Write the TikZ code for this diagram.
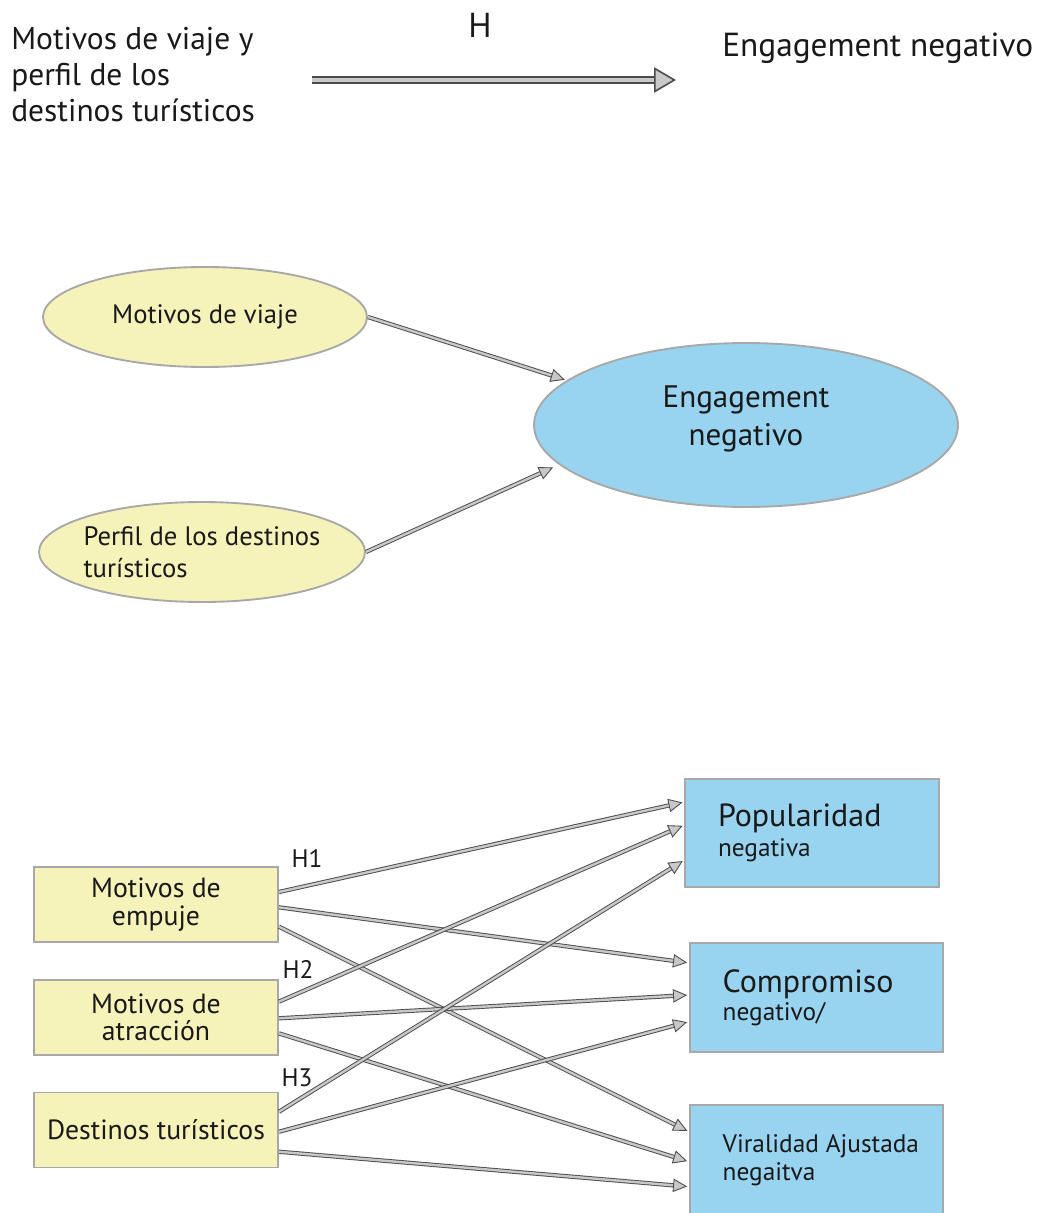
\documentclass[tikz,border=0pt]{standalone}
\usepackage{fontspec}
\setmainfont{PT Sans}
\usetikzlibrary{arrows.meta,shapes.geometric}
\definecolor{paleyellow}{RGB}{246,243,186}
\definecolor{skyblue}{RGB}{152,212,239}
\definecolor{edgegray}{RGB}{168,168,168}
\definecolor{arrdark}{RGB}{75,75,75}
\definecolor{arrlight}{RGB}{200,200,200}
\newcommand{\fsz}[2]{\fontsize{#1}{#2}\selectfont}

\begin{document}
\begin{tikzpicture}[x=0.75pt,y=-0.75pt,
  every node/.style={inner sep=0pt, text=black!90},
  yellowell/.style={ellipse, draw=edgegray, line width=1.4pt, fill=paleyellow},
  blueell/.style={ellipse, draw=edgegray, line width=1.4pt, fill=skyblue},
  yellowbox/.style={rectangle, draw=edgegray, line width=1.4pt, fill=paleyellow,
    minimum width=183pt, minimum height=56.25pt, align=center, font=\fsz{20.8}{20.5}},
  bluebox/.style={rectangle, draw=edgegray, line width=1.4pt, fill=skyblue,
    minimum width=190pt, minimum height=81pt},
  rlabel/.style={anchor=west, align=left, xshift=25pt, font=\fsz{19}{23}},
  hlabel/.style={font=\fsz{19}{19}},
  conn/.style={draw=arrdark, line width=0.7pt, double=arrlight, double distance=1.8pt,
    shorten >=1.5pt,
    -{Triangle[open, fill=arrlight, length=10.5pt, width=10pt, line width=0.65pt]}},
  bigarrow/.style={draw=arrdark, line width=1.4pt, double=arrlight, double distance=3.3pt,
    -{Triangle[open, fill=arrlight, length=16.5pt, width=19pt, line width=1.2pt]}}
]
\useasboundingbox (0,0) rectangle (1036,1213);

% ---------- top: single hypothesis ----------
\node[anchor=base west, align=left, font=\fsz{23.6}{27.3}] (src) at (11,122)
  {Motivos de viaje y\\perfil de los\\destinos turísticos};
\node[anchor=base west, font=\fsz{25}{30}] (tgt) at (722,57) {Engagement negativo};
\node[font=\fsz{26}{26}] (h) at (480,25) {H};
\coordinate (hs) at (312,80);
\coordinate (he) at (676,80);
\draw[bigarrow] (hs) -- (he);

% ---------- middle: ellipse model ----------
\node[yellowell, minimum width=243pt, minimum height=75pt, font=\fsz{20}{24}]
  (mv) at (205,317) {Motivos de viaje};
\node[yellowell, minimum width=244.5pt, minimum height=75pt, inner xsep=-8pt,
  align=left, font=\fsz{20}{24}]
  (pd) at (202,552) {Perfil de los destinos\\turísticos};
\node[blueell, minimum width=318pt, minimum height=123pt,
  label={[align=center, font=\fsz{23.3}{29}, yshift=4.5pt]center:Engagement\\negativo}]
  (eng) at (746,425) {};
\draw[conn] (mv.east) -- (eng.166);
\draw[conn, shorten >=5pt] (pd.east) -- (eng.192);

% ---------- bottom: three antecedents, three outcomes ----------
\node[yellowbox] (b1) at (156,904.5) {Motivos de\\empuje};
\node[yellowbox] (b2) at (156,1017.5) {Motivos de\\atracción};
\node[yellowbox] (b3) at (156,1130) {Destinos turísticos};

\node[bluebox, label={[rlabel]west:{{\fsz{24}{24}Popularidad}\\negativa}}]
  (pop) at (812,833) {};
\node[bluebox, minimum width=189.75pt, minimum height=81.75pt,
  label={[rlabel, font=\fsz{19}{21}]west:{{\fsz{24}{24}Compromiso}\\negativo/}}]
  (com) at (816.5,997.5) {};
\node[bluebox, minimum width=189.75pt, minimum height=82.5pt,
  label={[rlabel, font=\fsz{19}{20.5}]west:{Viralidad Ajustada\\negaitva}}]
  (vir) at (816.5,1160) {};

\node[hlabel] (h1) at (307,858) {H1};
\node[hlabel] (h2) at (298,969) {H2};
\node[hlabel] (h3) at (297,1078) {H3};

% push motives
\draw[conn] ([yshift=9.4pt]b1.east)   -- ([yshift=23.25pt]pop.west);
\draw[conn] ([yshift=-2.1pt]b1.east)  -- ([yshift=25.9pt]com.west);
\draw[conn] ([yshift=-16.6pt]b1.east) -- ([yshift=21.2pt]vir.west);
% pull motives
\draw[conn] ([yshift=11.9pt]b2.east)  -- ([yshift=6pt]pop.west);
\draw[conn] ([yshift=-0.6pt]b2.east)  -- ([yshift=1.9pt]com.west);
\draw[conn] ([yshift=-11.9pt]b2.east) -- ([yshift=-1.3pt]vir.west);
% destinations
\draw[conn] ([yshift=13.7pt]b3.east)  -- ([yshift=-20.25pt]pop.west);
\draw[conn] ([yshift=-1.3pt]b3.east)  -- ([yshift=-18.1pt]com.west);
\draw[conn] ([yshift=-16.3pt]b3.east) -- ([yshift=-20pt]vir.west);
\end{tikzpicture}
\end{document}
